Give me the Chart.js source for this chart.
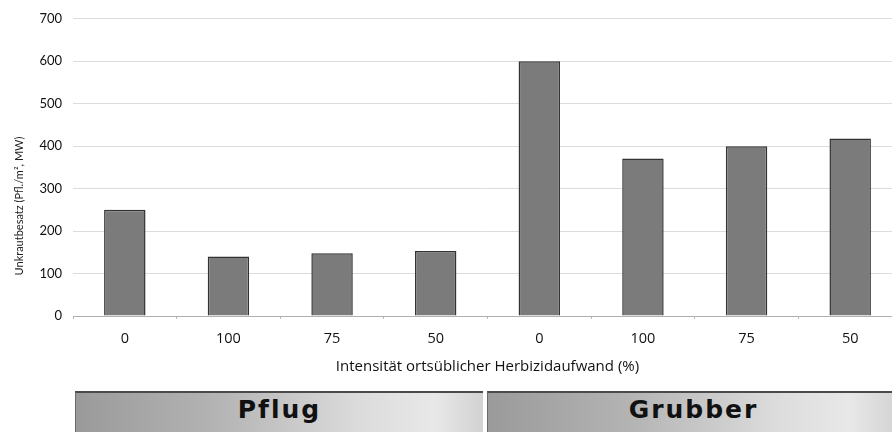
<!DOCTYPE html>
<html lang="de">
<head>
<meta charset="utf-8">
<title>Unkrautbesatz</title>
<script src="https://cdn.jsdelivr.net/npm/chart.js"></script>
<style>
  html, body { margin: 0; padding: 0; background: #fff; }
  body { width: 892px; height: 432px; overflow: hidden; position: relative; font-family: Lato, sans-serif; }
  #chartBox { position: absolute; left: 0; top: 0; width: 902px; height: 386px; }
  .panel {
    position: absolute; top: 391px; height: 60px;
    border-top: 2px solid #4a4a4a; border-left: 1px solid #6a6a6a;
    background: linear-gradient(to right, #9a9a9a 0%, #b4b4b4 35%, #dcdcdc 70%, #e8e8e8 88%, #d2d2d2 100%);
    box-sizing: border-box;
    font-family: 'DejaVu Sans', sans-serif; font-weight: bold; font-size: 25px;
    letter-spacing: 2px; color: #111; text-align: center; line-height: 34px;
  }
</style>
</head>
<body>
<div id="chartBox"><canvas id="chart" width="902" height="386"></canvas></div>
<div class="panel" style="left:75px; width:408px;">Pflug</div>
<div class="panel" style="left:487px; width:412px;">Grubber</div>

<script>
// Intensität ortsüblicher Herbizidaufwand (%), erst Pflug, dann Grubber
const categories = ['0', '100', '75', '50', '0', '100', '75', '50']
const unkrautbesatz = [250, 140, 148, 153, 600, 371, 400, 418]
const yTicks = [0, 100, 200, 300, 400, 500, 600, 700]

const yTitleText = 'Unkrautbesatz (Pfl./m², MW)'

// draws the y axis title a bit lower than the default centre, like in the original
const yTitlePlugin = {
  id: 'yTitle',
  afterDraw (chart) {
    const ctx = chart.ctx
    ctx.save()
    ctx.translate(19, 206)
    ctx.rotate(-Math.PI / 2)
    ctx.font = '11px Lato'
    ctx.fillStyle = '#222'
    ctx.textAlign = 'center'
    ctx.textBaseline = 'middle'
    ctx.fillText(yTitleText, 0, 0)
    ctx.restore()
  }
}

const ctx = document.getElementById('chart').getContext('2d')
new Chart(ctx, {
  type: 'bar',
  data: {
    labels: categories,
    datasets: [
      {
        data: unkrautbesatz,
        backgroundColor: '#7b7b7b',
        borderColor: '#333',
        borderWidth: 1.5,
        barPercentage: 0.4,
        categoryPercentage: 1
      }
    ]
  },
  options: {
    responsive: false,
    animation: false,
    layout: { padding: { top: 14, left: 0, right: 0, bottom: 0 } },
    plugins: {
      legend: { display: false },
      tooltip: { enabled: false }
    },
    scales: {
      x: {
        afterFit: scale => { scale.height = 70 },
        grid: {
          drawOnChartArea: false,
          drawTicks: true,
          tickLength: 3,
          color: '#b8b8b8'
        },
        border: { color: '#b0b0b0' },
        ticks: {
          color: '#111',
          padding: 11,
          font: { family: 'Open Sans', size: 14.5 }
        },
        title: {
          display: true,
          text: 'Intensität ortsüblicher Herbizidaufwand (%)',
          color: '#111',
          font: { family: 'Open Sans', size: 15 },
          padding: { top: 0, bottom: 10 }
        }
      },
      y: {
        min: 0,
        max: 700,
        afterFit: scale => { scale.width = 73 },
        afterBuildTicks: scale => {
          scale.ticks = yTicks.map(v => ({ value: v }))
        },
        grid: {
          drawTicks: false,
          color: ctx => (ctx.tick && ctx.tick.value === 0 ? 'rgba(0,0,0,0)' : '#dcdcdc')
        },
        border: { display: false },
        ticks: {
          color: '#111',
          padding: 11,
          font: { family: 'Lato', size: 13 }
        }
      }
    }
  },
  plugins: [yTitlePlugin]
})
</script>
</body>
</html>
